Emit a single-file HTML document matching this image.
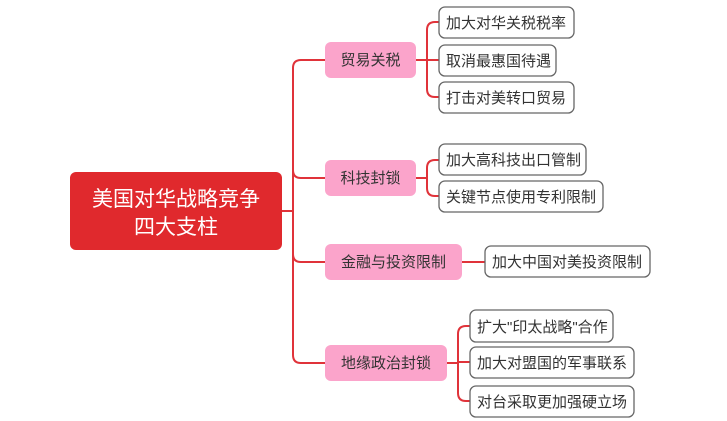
<!DOCTYPE html>
<html><head><meta charset="utf-8"><style>
html,body{margin:0;padding:0;background:#fff;width:727px;height:421px;overflow:hidden}
svg{display:block}
text{font-family:"Liberation Sans","Noto Sans CJK SC",sans-serif}
</style></head><body>
<svg width="727" height="421" viewBox="0 0 727 421" xmlns="http://www.w3.org/2000/svg">
<g fill="none" stroke="#e0333a" stroke-width="2">
<path d="M282 211 H293"/>
<path d="M325 60 H301 Q293 60 293 68 V355 Q293 363 301 363 H325"/>
<path d="M293 170 Q293 178 301 178 H325"/>
<path d="M293 254 Q293 262 301 262 H325"/>
<path d="M416 60 H427"/>
<path d="M439 22 H435 Q427 22 427 30 V89 Q427 97 435 97 H439"/>
<path d="M427 60 H439"/>
<path d="M416 178 H427"/>
<path d="M439 160 H435 Q427 160 427 168 V188 Q427 196 435 196 H439"/>
<path d="M462 262 H485"/>
<path d="M447 363 H458"/>
<path d="M470 326 H466 Q458 326 458 334 V393 Q458 401 466 401 H470"/>
<path d="M458 362 H470"/>
</g>
<rect x="70" y="172" width="212" height="78" rx="6" fill="#e0292d"/>
<text x="176" y="206" fill="#fff" font-size="21" text-anchor="middle">美国对华战略竞争</text>
<text x="176" y="234" fill="#fff" font-size="21" text-anchor="middle">四大支柱</text>
<g fill="#fba4cb">
<rect x="325" y="42" width="91" height="36" rx="6"/>
<rect x="325" y="160" width="91" height="36" rx="6"/>
<rect x="325" y="244" width="137" height="36" rx="6"/>
<rect x="325" y="345" width="122" height="36" rx="6"/>
</g>
<g fill="#333" font-size="15" text-anchor="middle">
<text x="370.5" y="65">贸易关税</text>
<text x="370.5" y="183">科技封锁</text>
<text x="393.5" y="267">金融与投资限制</text>
<text x="386" y="368">地缘政治封锁</text>
</g>
<g fill="#fff" stroke="#666" stroke-width="1.3">
<rect x="439" y="7" width="135" height="31" rx="6"/>
<rect x="439" y="45" width="117" height="31" rx="6"/>
<rect x="439" y="82" width="135" height="31" rx="6"/>
<rect x="439" y="144" width="147" height="31" rx="6"/>
<rect x="439" y="181" width="164" height="31" rx="6"/>
<rect x="485" y="246" width="165" height="31" rx="6"/>
<rect x="470" y="310" width="143" height="32" rx="6"/>
<rect x="470" y="347" width="164" height="31" rx="6"/>
<rect x="470" y="386" width="164" height="31" rx="6"/>
</g>
<g fill="#333" font-size="15">
<text x="446" y="28">加大对华关税税率</text>
<text x="446" y="66">取消最惠国待遇</text>
<text x="446" y="103">打击对美转口贸易</text>
<text x="446" y="165">加大高科技出口管制</text>
<text x="446" y="202">关键节点使用专利限制</text>
<text x="492" y="267">加大中国对美投资限制</text>
<text x="477" y="332">扩大"印太战略"合作</text>
<text x="477" y="368">加大对盟国的军事联系</text>
<text x="477" y="407">对台采取更加强硬立场</text>
</g>
</svg>
</body></html>
